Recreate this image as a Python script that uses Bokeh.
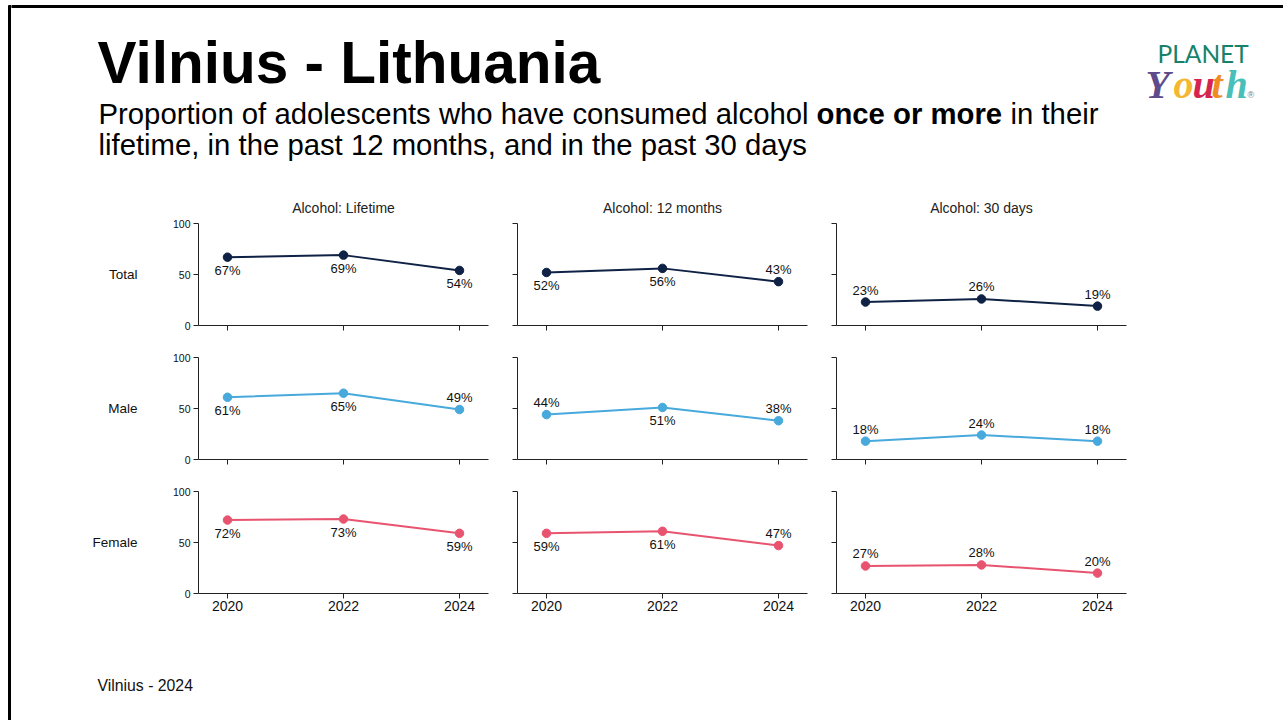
from bokeh.plotting import figure
from bokeh.models import ColumnDataSource, Range1d, FixedTicker
from bokeh.layouts import row, column
from bokeh.embed import file_html
from bokeh.resources import INLINE
from bokeh.core.properties import value

# ---------------- data ----------------
years = [2020, 2022, 2024]
groups = ["Total", "Male", "Female"]
measures = ["Alcohol: Lifetime", "Alcohol: 12 months", "Alcohol: 30 days"]
y_ticks = [0, 50, 100]

total_lifetime = [67, 69, 54]
total_12m = [52, 56, 43]
total_30d = [23, 26, 19]
male_lifetime = [61, 65, 49]
male_12m = [44, 51, 38]
male_30d = [18, 24, 18]
female_lifetime = [72, 73, 59]
female_12m = [59, 61, 47]
female_30d = [27, 28, 20]

values = [
    [total_lifetime, total_12m, total_30d],
    [male_lifetime, male_12m, male_30d],
    [female_lifetime, female_12m, female_30d],
]

# label side per point: 1 = above the point, -1 = below
label_side = [
    [[-1, -1, -1], [-1, -1, 1], [1, 1, 1]],
    [[-1, -1, 1], [1, -1, 1], [1, 1, 1]],
    [[-1, -1, -1], [-1, -1, 1], [1, 1, 1]],
]

title_text = "Vilnius - Lithuania"
subtitle_a = "Proportion of adolescents who have consumed alcohol"
subtitle_b = "once or more"
subtitle_c = "in their"
subtitle_2 = "lifetime, in the past 12 months, and in the past 30 days"
footer_text = "Vilnius - 2024"

# ---------------- style ----------------
FONT = "Liberation Sans"
colors = ["#0f2245", "#47a9dc", "#e8546f"]
AX = "#222222"

# page geometry (absolute page pixels)
EDGE_W = 11      # white gap + 3px black slide edge
X1 = 1283
HEADER_B = 190
ROW_T = [190, 340, 474]
ROW_B = [340, 474, 626]
FOOT_B = 720
LABEL_R = 150
COL_L = [150, 500, 818]
COL_R = [500, 818, X1]
FRAME_L = [198, 517, 836]
FRAME_W = 290
FRAME_T = [223, 357, 491]
FRAME_H = 102


def blank(w, h, xr, yr):
    f = figure(width=w, height=h, x_range=xr, y_range=yr, output_backend="svg",
               toolbar_location=None, x_axis_type=None, y_axis_type=None,
               min_border=0, outline_line_color=None, title=None)
    f.grid.visible = False
    return f


def htext(fig, x, y, txt, size, style="normal", color="black", font=FONT, align="left"):
    fig.text(x=x, y=y, text=txt, text_font=value(font), text_font_size=size,
             text_font_style=style, text_color=color, text_baseline="middle",
             text_align=align)


# ---------------- header ----------------
header = blank(X1 - EDGE_W, HEADER_B, Range1d(EDGE_W, X1), Range1d(HEADER_B, 0))
header.quad(left=[EDGE_W], right=[X1], top=[5], bottom=[7], color="black")
htext(header, [97], [62], [title_text], "58.5px", "bold")
htext(header, [98], [112.5], [subtitle_a], "29.3px")
htext(header, [816], [112.5], [subtitle_b], "29.3px", "bold")
htext(header, [1010], [112.5], [subtitle_c], "29.3px")
htext(header, [98], [143.5], [subtitle_2], "29.3px")
# logo
htext(header, [1157], [53], ["PLANET"], "24.5px", color="#17826b", font="Lato")
logo_letters = ["Y", "o", "u", "t", "h"]
logo_x = [1145, 1173, 1192, 1211, 1225]
logo_c = ["#5d4b8c", "#f4b731", "#d6234f", "#f08b22", "#48bfb8"]
htext(header, logo_x, [84] * 5, logo_letters, "40px", "bold italic", logo_c, "Liberation Serif")
htext(header, [1247], [94], ["®"], "9px", color="#777777")

# ---------------- row labels ----------------
labels_fig = blank(LABEL_R - EDGE_W, ROW_B[2] - ROW_T[0], Range1d(EDGE_W, LABEL_R),
                   Range1d(ROW_B[2], ROW_T[0]))
htext(labels_fig, [137] * 3, [FRAME_T[i] + FRAME_H / 2 for i in range(3)], groups,
      "13.5px", color="#111111", align="right")


# ---------------- panels ----------------
def panel(r, c):
    w = COL_R[c] - COL_L[c]
    h = ROW_B[r] - ROW_T[r]
    mbl = FRAME_L[c] - COL_L[c]
    mbr = w - mbl - FRAME_W
    mbt = FRAME_T[r] - ROW_T[r]
    mbb = h - mbt - FRAME_H
    p = figure(width=w, height=h, x_range=Range1d(2019.5, 2024.5), y_range=Range1d(0, 100),
               output_backend="svg", toolbar_location=None,
               min_border_left=mbl, min_border_right=mbr, min_border_top=mbt,
               min_border_bottom=mbb, outline_line_color=None,
               title=measures[c] if r == 0 else None)
    if r == 0:
        p.title.align = "center"
        p.title.text_font = FONT
        p.title.text_font_size = "14px"
        p.title.text_font_style = "normal"
        p.title.text_color = "#222222"
        p.title.standoff = 15
    p.grid.visible = False
    p.xaxis.ticker = FixedTicker(ticks=years)
    p.yaxis.ticker = FixedTicker(ticks=y_ticks)
    for ax in (p.xaxis[0], p.yaxis[0]):
        ax.axis_line_color = AX
        ax.axis_line_width = 1
        ax.major_tick_line_color = AX
        ax.major_tick_in = 0
        ax.major_tick_out = 5
        ax.minor_tick_line_color = None
        ax.major_label_text_font = FONT
        ax.major_label_text_color = "#111111"
    p.xaxis.major_label_text_font_size = "14px"
    p.xaxis.major_label_standoff = 2
    p.yaxis.major_label_text_font_size = "10.5px"
    p.yaxis.major_label_standoff = 3
    if r != 2:
        p.xaxis.major_label_overrides = {yv: "" for yv in years}
    if c != 0:
        p.yaxis.major_label_overrides = {tv: "" for tv in y_ticks}

    vals = values[r][c]
    src = ColumnDataSource(dict(
        x=years, y=vals, label=[f"{v}%" for v in vals],
        dy=[-12 if s > 0 else 13 for s in label_side[r][c]],
    ))
    col = colors[r]
    p.line(x="x", y="y", source=src, line_width=2, line_color=col)
    p.scatter(x="x", y="y", source=src, size=8.5, fill_color=col, line_color=col)
    p.text(x="x", y="y", text="label", y_offset="dy", source=src, text_align="center",
           text_baseline="middle", text_font=value(FONT), text_font_size="13px",
           text_color="#111111")
    return p


cols = []
for c in range(3):
    cols.append(column([panel(r, c) for r in range(3)]))
body = row([labels_fig] + cols)

# ---------------- footer ----------------
footer = blank(X1 - EDGE_W, FOOT_B - ROW_B[2], Range1d(EDGE_W, X1), Range1d(FOOT_B, ROW_B[2]))
htext(footer, [97], [685], [footer_text], "15.8px", color="#111111")

main = column([header, body, footer])

# slide's left edge
edge = blank(EDGE_W, FOOT_B, Range1d(0, EDGE_W), Range1d(FOOT_B, 0))
edge.quad(left=[8], right=[EDGE_W], top=[5], bottom=[FOOT_B], color="black")

layout = row([edge, main])

with open("out.html", "w") as fh:
    fh.write(file_html(layout, INLINE, title="Vilnius - Lithuania"))
